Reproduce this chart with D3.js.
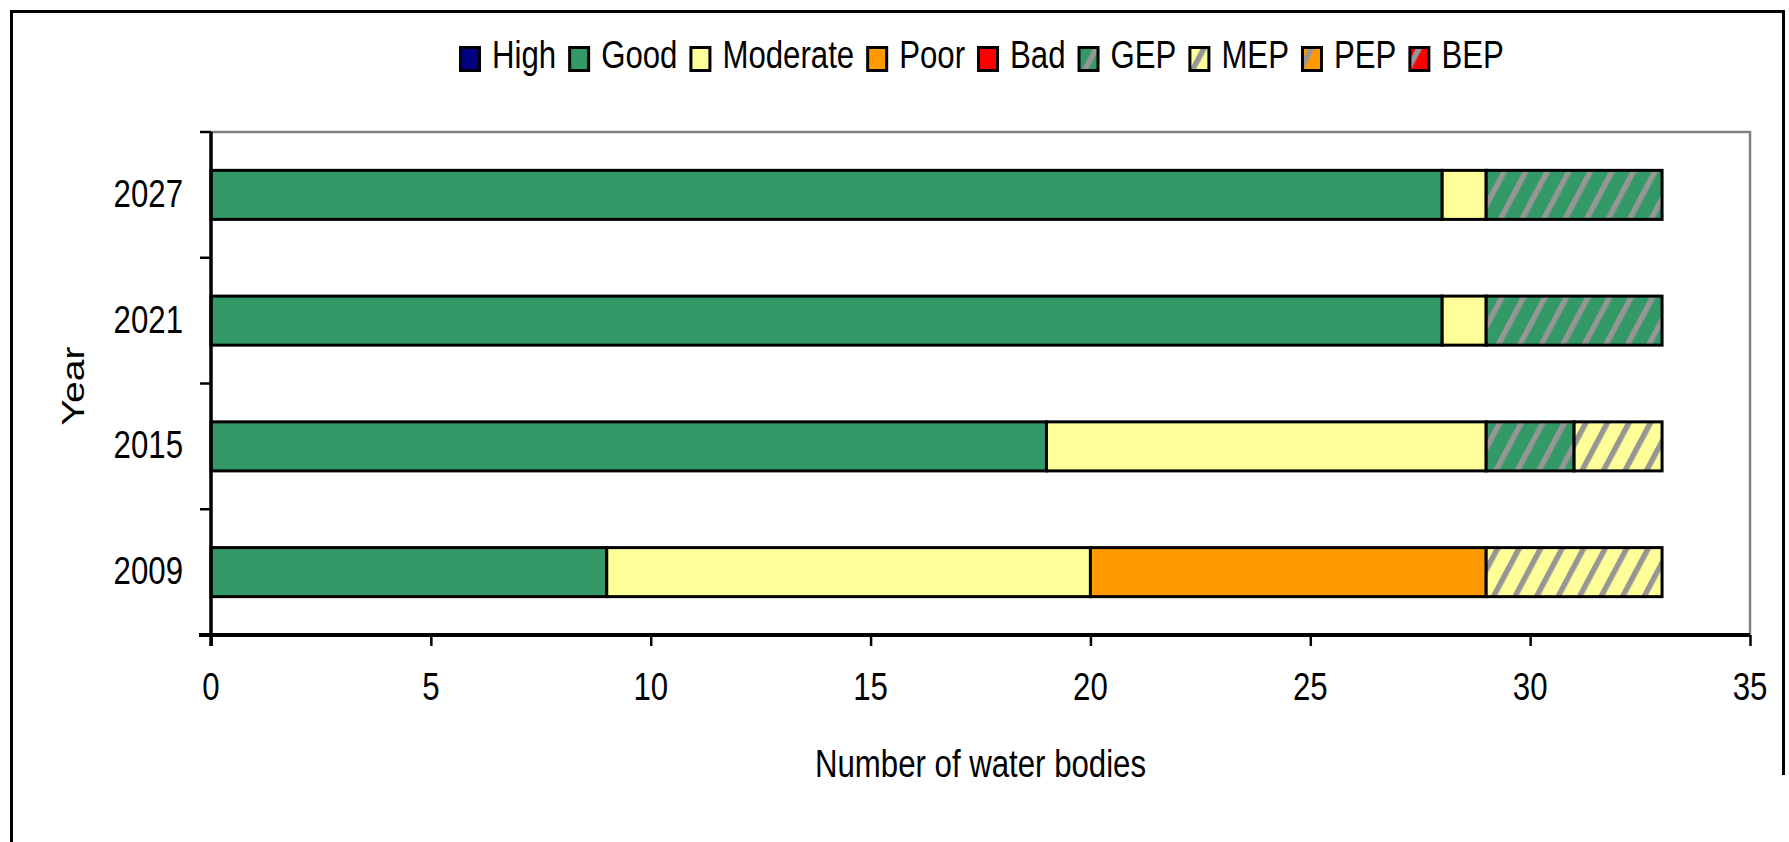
<!DOCTYPE html>
<html>
<head>
<meta charset="utf-8">
<script src="https://cdn.jsdelivr.net/npm/d3@7"></script>
<style>
  html, body { margin: 0; padding: 0; background: #fff; }
  svg { display: block; }
  text { font-family: "Liberation Sans", Arial, sans-serif; fill: #000; }
</style>
</head>
<body>
<svg id="chart" width="1789" height="842"></svg>
<script>
// ---- data ----
const years = ["2027", "2021", "2015", "2009"];
const classes = ["High", "Good", "Moderate", "Poor", "Bad", "GEP", "MEP", "PEP", "BEP"];
const High     = [0, 0, 0, 0];
const Good     = [28, 28, 19, 9];
const Moderate = [1, 1, 10, 11];
const Poor     = [0, 0, 0, 9];
const Bad      = [0, 0, 0, 0];
const GEP      = [4, 4, 2, 0];
const MEP      = [0, 0, 2, 4];
const PEP      = [0, 0, 0, 0];
const BEP      = [0, 0, 0, 0];
const xTicks   = [0, 5, 10, 15, 20, 25, 30, 35];
const xTitle   = "Number of water bodies";
const yTitle   = "Year";

const seriesValues = { High, Good, Moderate, Poor, Bad, GEP, MEP, PEP, BEP };
const baseColor = {
  High: "#000080", Good: "#339966", Moderate: "#FFFF99", Poor: "#FF9900", Bad: "#FF0000",
  GEP: "#339966", MEP: "#FFFF99", PEP: "#FF9900", BEP: "#FF0000"
};
const hatched = { GEP: true, MEP: true, PEP: true, BEP: true };

const table = years.map((y, i) => {
  const row = { year: y };
  classes.forEach(c => row[c] = seriesValues[c][i]);
  return row;
});

// ---- layout ----
const svg = d3.select("#chart");
const L = 211, R = 1750, T = 132, B = 635;
const SX = 0.8, FS = 39;

const x = d3.scaleLinear().domain([0, 35]).range([L, R]);
const y = d3.scaleBand().domain(years).range([T, B]).paddingInner(0.61).paddingOuter(0.305);

// patterns
const defs = svg.append("defs");
classes.filter(c => hatched[c]).forEach(c => {
  const p = defs.append("pattern")
    .attr("id", "hatch-" + c)
    .attr("patternUnits", "userSpaceOnUse")
    .attr("width", 19).attr("height", 20)
    .attr("patternTransform", "rotate(28)");
  p.append("rect").attr("width", 19).attr("height", 20).attr("fill", baseColor[c]);
  p.append("rect").attr("x", 0).attr("y", 0).attr("width", 5.5).attr("height", 20).attr("fill", "#969696");
});
const fillOf = c => hatched[c] ? `url(#hatch-${c})` : baseColor[c];

// outer frame
svg.append("path")
  .attr("d", `M11.5,842 L11.5,11.5 L1783.5,11.5 L1783.5,775`)
  .attr("fill", "none").attr("stroke", "#000").attr("stroke-width", 3);

// plot area gray border (top, right)
svg.append("path")
  .attr("d", `M${L},${T} L${R},${T} L${R},${B}`)
  .attr("fill", "none").attr("stroke", "#808080").attr("stroke-width", 2.5);

// bars
const stack = d3.stack().keys(classes)(table);
const gBars = svg.append("g");
stack.forEach(layer => {
  const c = layer.key;
  gBars.selectAll(null)
    .data(layer.filter(d => d[1] - d[0] > 0))
    .join("rect")
    .attr("x", d => x(d[0]))
    .attr("width", d => x(d[1]) - x(d[0]))
    .attr("y", d => y(d.data.year))
    .attr("height", y.bandwidth())
    .attr("fill", fillOf(c))
    .attr("stroke", "#000")
    .attr("stroke-width", 3);
});

// axes
const xAxis = svg.append("g").attr("transform", `translate(0,${B})`)
  .call(d3.axisBottom(x).tickValues(xTicks).tickSize(11).tickFormat(""));
xAxis.select(".domain").remove();
xAxis.selectAll(".tick line").attr("stroke", "#000").attr("stroke-width", 2.5);
svg.append("line").attr("x1", L - 12).attr("x2", R).attr("y1", B).attr("y2", B)
  .attr("stroke", "#000").attr("stroke-width", 4);

// y ticks at band boundaries
const yBounds = d3.range(years.length + 1).map(i => T + i * (B - T) / years.length);
svg.append("g").selectAll("line").data(yBounds).join("line")
  .attr("x1", L - 11).attr("x2", L).attr("y1", d => d).attr("y2", d => d)
  .attr("stroke", "#000").attr("stroke-width", 2.5);
svg.append("line").attr("x1", L).attr("x2", L).attr("y1", T).attr("y2", B + 11)
  .attr("stroke", "#000").attr("stroke-width", 3.5);

// compressed text helper
function ctext(g, str, tx, ty, anchor) {
  return g.append("text")
    .attr("transform", `translate(${tx},${ty}) scale(${SX},1)`)
    .attr("text-anchor", anchor)
    .attr("font-size", FS)
    .text(str);
}

const labels = svg.append("g");
xTicks.forEach(v => ctext(labels, String(v), x(v), 700, "middle"));
years.forEach(yr => ctext(labels, yr, 183, y(yr) + y.bandwidth() / 2 + 12, "end"));
ctext(labels, xTitle, (L + R) / 2, 777, "middle");
labels.append("text")
  .attr("transform", `translate(84,386) scale(${SX},1) rotate(-90)`)
  .attr("text-anchor", "middle")
  .attr("font-size", FS)
  .text(yTitle);

// legend
const lg = svg.append("g");
let lx = 459;
classes.forEach(c => {
  lg.append("rect").attr("x", lx + 1.5).attr("y", 47.5).attr("width", 19).attr("height", 23)
    .attr("fill", fillOf(c)).attr("stroke", "#000").attr("stroke-width", 3);
  const t = ctext(lg, c, lx + 33, 68, "start");
  const w = t.node().getComputedTextLength() * SX;
  lx = lx + 33 + w + 12;
});
</script>
</body>
</html>
